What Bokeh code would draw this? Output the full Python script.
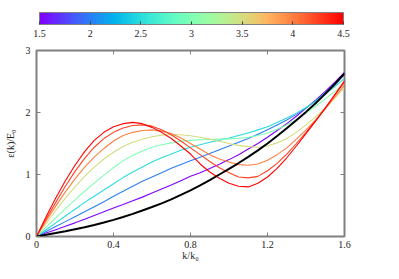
import math
from bokeh.plotting import figure
from bokeh.models import (ColorBar, LinearColorMapper, FixedTicker,
                          Range1d, CustomJSTickFormatter)
from bokeh.embed import file_html
from bokeh.resources import INLINE

# wave number k/k0
k = [0.0, 0.05, 0.1, 0.15, 0.2, 0.25, 0.3, 0.35, 0.4, 0.45, 0.5, 0.55, 0.6, 0.65,
     0.7, 0.75, 0.8, 0.85, 0.9, 0.95, 1.0, 1.05, 1.1, 1.15, 1.2, 1.25, 1.3, 1.35,
     1.4, 1.45, 1.5, 1.55, 1.6]

# parameter values of the coloured curves
params = [1.5, 2.0, 2.5, 3.0, 3.5, 4.0, 4.25, 4.5]

eps_15 = [0.0, 0.055, 0.11, 0.165, 0.22, 0.28, 0.34, 0.40, 0.46, 0.515, 0.575, 0.635,
          0.70, 0.765, 0.83, 0.90, 0.97, 1.03, 1.095, 1.165, 1.24, 1.32, 1.41, 1.50,
          1.60, 1.71, 1.82, 1.94, 2.07, 2.20, 2.34, 2.49, 2.645]
eps_20 = [0.0, 0.08, 0.16, 0.24, 0.32, 0.40, 0.48, 0.56, 0.65, 0.73, 0.81, 0.89,
          0.96, 1.03, 1.10, 1.16, 1.22, 1.28, 1.34, 1.40, 1.46, 1.52, 1.58, 1.65,
          1.72, 1.80, 1.88, 1.97, 2.07, 2.19, 2.32, 2.46, 2.61]
eps_25 = [0.0, 0.11, 0.22, 0.33, 0.44, 0.55, 0.65, 0.75, 0.85, 0.95, 1.04, 1.12,
          1.20, 1.27, 1.33, 1.39, 1.44, 1.48, 1.52, 1.555, 1.59, 1.63, 1.67, 1.72,
          1.77, 1.84, 1.91, 1.99, 2.08, 2.18, 2.30, 2.42, 2.55]
eps_30 = [0.0, 0.15, 0.30, 0.45, 0.59, 0.73, 0.86, 0.99, 1.11, 1.22, 1.31, 1.38,
          1.44, 1.48, 1.51, 1.535, 1.55, 1.56, 1.565, 1.57, 1.575, 1.585, 1.60, 1.63,
          1.67, 1.73, 1.80, 1.89, 1.99, 2.10, 2.22, 2.34, 2.47]
eps_35 = [0.0, 0.21, 0.42, 0.62, 0.80, 0.97, 1.12, 1.25, 1.36, 1.45, 1.52, 1.57,
          1.61, 1.635, 1.645, 1.64, 1.625, 1.60, 1.57, 1.535, 1.50, 1.47, 1.45, 1.44,
          1.46, 1.51, 1.58, 1.68, 1.80, 1.93, 2.07, 2.23, 2.40]
eps_40 = [0.0, 0.25, 0.49, 0.72, 0.93, 1.12, 1.28, 1.42, 1.54, 1.63, 1.68, 1.71,
          1.72, 1.70, 1.66, 1.59, 1.50, 1.41, 1.32, 1.25, 1.20, 1.16, 1.15, 1.17,
          1.23, 1.32, 1.43, 1.57, 1.72, 1.88, 2.06, 2.25, 2.44]
eps_425 = [0.0, 0.28, 0.55, 0.81, 1.05, 1.26, 1.44, 1.58, 1.68, 1.75, 1.79, 1.80,
           1.78, 1.72, 1.64, 1.54, 1.43, 1.32, 1.21, 1.11, 1.03, 0.96, 0.945, 0.97,
           1.06, 1.18, 1.33, 1.50, 1.68, 1.87, 2.07, 2.28, 2.49]
eps_45 = [0.0, 0.32, 0.62, 0.90, 1.15, 1.37, 1.55, 1.68, 1.77, 1.82, 1.84, 1.82,
          1.76, 1.68, 1.58, 1.46, 1.33, 1.17, 1.04, 0.94, 0.86, 0.81, 0.80, 0.86,
          0.96, 1.10, 1.27, 1.46, 1.66, 1.86, 2.07, 2.29, 2.51]
eps_ref = [0.0, 0.027, 0.056, 0.086, 0.118, 0.15, 0.187, 0.226, 0.268, 0.315, 0.365,
           0.42, 0.475, 0.535, 0.60, 0.67, 0.745, 0.825, 0.91, 1.0, 1.09, 1.185,
           1.285, 1.39, 1.50, 1.62, 1.745, 1.875, 2.01, 2.15, 2.30, 2.46, 2.63]

curves = [eps_15, eps_20, eps_25, eps_30, eps_35, eps_40, eps_425, eps_45]

x_ticks = [0, 0.4, 0.8, 1.2, 1.6]
y_ticks = [0, 1, 2, 3]
cb_ticks = [1.5, 2, 2.5, 3, 3.5, 4, 4.5]
p_low, p_high = 1.5, 4.5
x_lo, x_hi = 0, 1.6
y_lo, y_hi = 0, 3
x_title = "k/k\u2080"
y_title = "\u03b5(k)/E\u2080"


def rainbow(t):
    r = min(1.0, abs(2 * t - 0.5))
    g = max(0.0, math.sin(math.pi * t))
    b = max(0.0, math.cos(math.pi * t / 2))
    return "#%02x%02x%02x" % (round(r * 255), round(g * 255), round(b * 255))


palette = [rainbow(i / 255) for i in range(256)]

FONT = "Liberation Serif"
GRAY = "#808080"
TXT = "#222222"
fmt = CustomJSTickFormatter(code="return tick.toString();")

p = figure(width=383, height=263, output_backend="svg", toolbar_location=None,
           x_range=Range1d(x_lo, x_hi), y_range=Range1d(y_lo, y_hi),
           min_border_left=36, min_border_right=39, min_border_bottom=24,
           min_border_top=50)
p.grid.visible = False
p.outline_line_color = GRAY
p.outline_line_width = 2
p.background_fill_color = "white"
p.border_fill_color = "white"

for ax, ticks in ((p.xaxis[0], x_ticks), (p.yaxis[0], y_ticks)):
    ax.ticker = FixedTicker(ticks=ticks)
    ax.formatter = fmt
    ax.axis_line_color = None
    ax.major_tick_in = 4
    ax.major_tick_out = 0
    ax.major_tick_line_color = GRAY
    ax.minor_tick_line_color = None
    ax.major_label_text_font = FONT
    ax.major_label_text_font_size = "10px"
    ax.major_label_text_color = TXT
    ax.axis_label_text_font = FONT
    ax.axis_label_text_font_size = "10px"
    ax.axis_label_text_font_style = "normal"
    ax.axis_label_text_color = TXT
p.xaxis.major_label_standoff = 4
p.yaxis.major_label_standoff = 6
p.xaxis.axis_label = x_title
p.yaxis.axis_label = y_title
p.xaxis.axis_label_standoff = -1
p.yaxis.axis_label_standoff = 7

# mirrored inward ticks on the top and right frame edges
tick_dx = 0.013 * (x_hi - x_lo)
tick_dy = 0.021 * (y_hi - y_lo)
xt = x_ticks[1:-1]
yt = y_ticks[1:-1]
p.segment(x0=xt, y0=[y_hi] * len(xt), x1=xt, y1=[y_hi - tick_dy] * len(xt),
          line_color=GRAY, line_width=1)
p.segment(x0=[x_hi] * len(yt), y0=yt, x1=[x_hi - tick_dx] * len(yt), y1=yt,
          line_color=GRAY, line_width=1)

mapper = LinearColorMapper(palette=palette, low=p_low, high=p_high)
cb = ColorBar(color_mapper=mapper, orientation="horizontal", height=12, width=304,
              ticker=FixedTicker(ticks=cb_ticks), formatter=fmt,
              major_label_text_font=FONT, major_label_text_font_size="10px",
              major_label_text_color=TXT,
              bar_line_color=GRAY, bar_line_width=1,
              major_tick_line_color="#404040", major_tick_in=3, major_tick_out=0,
              minor_tick_line_color=None, padding=0, margin=0,
              location=(3, 197), label_standoff=5,
              background_fill_alpha=0, border_line_color=None)
p.add_layout(cb, "center")

for par, vals in zip(params, curves):
    col = rainbow((par - p_low) / (p_high - p_low))
    p.line(k, vals, line_color=col, line_width=1.1)
p.line(k, eps_ref, line_color="black", line_width=2)

open("out.html", "w").write(file_html(p, INLINE))
